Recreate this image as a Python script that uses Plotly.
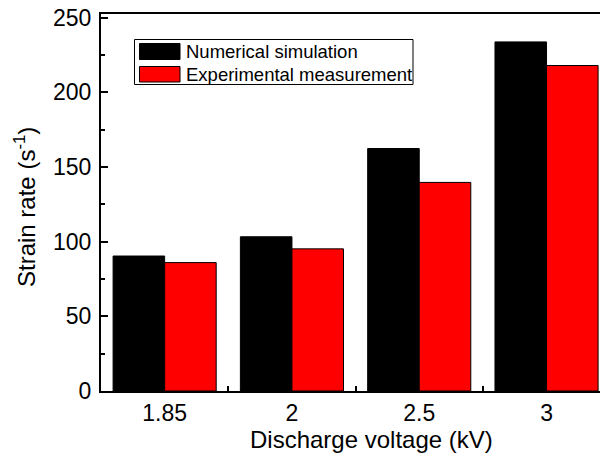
import plotly.graph_objects as go

categories = ["1.85", "2", "2.5", "3"]
series_names = ["Numerical simulation", "Experimental measurement"]
sim_values = [90.4, 103.3, 162.4, 233.8]
exp_values = [86.0, 95.2, 139.7, 218.0]
series_colors = ["#000000", "#FF0000"]
x_title = "Discharge voltage (kV)"
y_title = "Strain rate (s<sup>-1</sup>)"

W, H = 600, 453
ML, MR, MT, MB = 101, 0, 14, 62
FONT = "Arial, Liberation Sans, sans-serif"

def px_x(px):
    return (px - ML) / (W - ML - MR)

def px_y(py):
    return (H - MB - py) / (H - MB - MT)

fig = go.Figure()
for name, vals, col in zip(series_names, [sim_values, exp_values], series_colors):
    fig.add_trace(go.Bar(
        x=categories, y=vals, name=name,
        marker=dict(color=col, line=dict(color="#000000", width=1)),
        showlegend=False,
    ))

# custom legend (box + swatches + text)
shapes = [dict(type="rect", xref="paper", yref="paper",
               x0=px_x(134.5), x1=px_x(413), y0=px_y(84.5), y1=px_y(39.5),
               line=dict(color="#000000", width=1), fillcolor="white")]
annotations = []
rows = [(43.5, 59.5), (66.5, 82)]
for (y0, y1), name, col in zip(rows, series_names, series_colors):
    shapes.append(dict(type="rect", xref="paper", yref="paper",
                       x0=px_x(139.5), x1=px_x(180), y0=px_y(y1), y1=px_y(y0),
                       line=dict(color="#000000", width=1), fillcolor=col))
    annotations.append(dict(xref="paper", yref="paper", x=px_x(184), y=px_y((y0 + y1) / 2),
                            text=name, showarrow=False, xanchor="left", yanchor="middle",
                            font=dict(family=FONT, size=18.5, color="#000000")))

# x-axis title (offset centre as in the reference)
annotations.append(dict(xref="paper", yref="paper", x=px_x(371), y=px_y(439),
                        text=x_title, showarrow=False, xanchor="center", yanchor="middle",
                        font=dict(family=FONT, size=24, color="#000000")))
# y-axis title
annotations.append(dict(xref="paper", yref="paper", x=px_x(25), y=px_y(207),
                        text=y_title, showarrow=False, xanchor="center", yanchor="middle",
                        textangle=-90,
                        font=dict(family=FONT, size=24, color="#000000")))

fig.update_layout(
    width=W, height=H,
    margin=dict(l=ML, r=MR, t=MT, b=MB, pad=0),
    paper_bgcolor="white", plot_bgcolor="white",
    barmode="group", bargap=0.19, bargroupgap=0,
    font=dict(family=FONT, size=23, color="#000000"),
    shapes=shapes, annotations=annotations,
)
fig.update_xaxes(
    type="category", range=[-0.5, 3.42],
    showline=True, linecolor="#000000", linewidth=2, mirror=True,
    ticks="inside", tickson="boundaries", ticklen=5, tickwidth=1.5, tickcolor="#000000",
    showgrid=False, zeroline=False,
    tickfont=dict(family=FONT, size=23),
)
fig.update_yaxes(
    range=[0, 252.5], tickvals=[0, 50, 100, 150, 200, 250],
    showline=True, linecolor="#000000", linewidth=2,
    ticks="inside", ticklen=7, tickwidth=2, tickcolor="#000000",
    minor=dict(ticks="inside", ticklen=4, tickwidth=2, tickcolor="#000000", dtick=25),
    showgrid=False, zeroline=False, ticklabelstandoff=3,
    tickfont=dict(family=FONT, size=23),
)

fig.write_html("out.html")
